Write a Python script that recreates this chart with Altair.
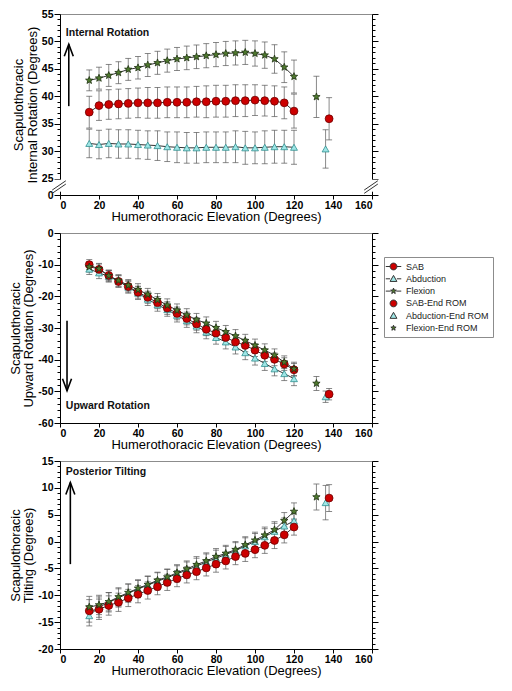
import math
import altair as alt
import pandas as pd

# ---------------- data ----------------
elevation = list(range(15, 121, 5))
series_names = ["SAB", "Abduction", "Flexion"]
end_rom_x = [138.0, 136.2, 131.5]

# Panel 1: internal rotation
ir_sab = [37.1, 38.3, 38.5, 38.6, 38.7, 38.8, 38.8, 38.8, 38.9, 38.9, 38.9, 39.0, 39.0, 39.1, 39.1, 39.2, 39.2, 39.3, 39.2, 39.1, 38.8, 37.3]
ir_sab_sd = [2.9, 2.7, 2.7, 2.7, 2.7, 2.7, 2.8, 2.8, 2.8, 2.8, 2.8, 2.8, 2.9, 2.9, 2.9, 2.9, 2.9, 2.8, 2.8, 2.8, 2.9, 3.1]
ir_abd = [31.4, 31.2, 31.4, 31.3, 31.3, 31.2, 31.1, 31.0, 30.8, 30.7, 30.6, 30.6, 30.7, 30.7, 30.7, 30.8, 30.6, 30.6, 30.7, 30.8, 30.8, 30.7]
ir_abd_sd = [2.6, 2.6, 2.6, 2.6, 2.6, 2.6, 2.6, 2.7, 2.7, 2.8, 2.8, 2.8, 2.8, 2.8, 2.8, 2.9, 3.0, 2.9, 3.0, 3.0, 3.0, 3.1]
ir_flex = [42.9, 43.3, 43.8, 44.3, 44.9, 45.2, 45.7, 46.1, 46.5, 46.8, 47.0, 47.2, 47.4, 47.6, 47.8, 47.9, 48.0, 47.8, 47.5, 46.8, 45.3, 43.6]
ir_flex_sd = [1.9, 2.0, 2.0, 2.0, 2.0, 2.05, 2.1, 2.1, 2.1, 2.1, 2.15, 2.15, 2.2, 2.2, 2.2, 2.2, 2.2, 2.3, 2.4, 2.6, 2.8, 3.0]
ir_end = [35.9, 30.4, 39.9]
ir_end_sd = [3.85, 3.5, 3.75]

# Panel 2: upward rotation
ur_sab = [-10.0, -11.5, -13.4, -15.3, -16.9, -18.7, -20.3, -22.0, -23.7, -25.4, -27.0, -28.7, -30.4, -31.6, -33.0, -34.4, -35.5, -37.0, -38.6, -39.9, -41.4, -43.2]
ur_sab_sd = [1.6, 1.7, 1.7, 1.8, 1.8, 1.9, 1.9, 1.9, 2.0, 2.0, 2.0, 2.0, 2.0, 2.0, 2.0, 2.0, 2.0, 2.0, 2.0, 2.0, 2.0, 2.0]
ur_abd = [-11.4, -12.6, -13.7, -15.2, -17.1, -19.0, -20.9, -22.7, -24.2, -26.0, -27.7, -29.4, -31.3, -33.0, -34.4, -36.0, -37.8, -39.5, -41.2, -42.9, -44.4, -46.0]
ur_abd_sd = [1.7, 1.8, 1.8, 1.9, 1.9, 2.0, 2.0, 2.0, 2.1, 2.1, 2.1, 2.1, 2.1, 2.1, 2.2, 2.2, 2.2, 2.2, 2.2, 2.2, 2.2, 2.2]
ur_flex = [-10.7, -11.3, -13.5, -15.0, -16.5, -17.9, -19.4, -21.1, -22.8, -24.4, -25.9, -27.4, -28.5, -29.9, -31.2, -32.5, -34.0, -35.5, -37.0, -38.6, -40.8, -42.9]
ur_flex_sd = [1.6, 1.7, 1.7, 1.8, 1.8, 1.9, 1.9, 2.0, 2.0, 2.0, 2.0, 2.0, 2.0, 2.0, 2.0, 2.0, 2.0, 2.0, 2.0, 2.0, 2.0, 2.1]
ur_end = [-50.9, -51.7, -47.5]
ur_end_sd = [1.8, 1.8, 2.2]

# Panel 3: posterior tilting
pt_sab = [-12.9, -12.6, -11.9, -11.3, -10.5, -9.8, -9.1, -8.4, -7.6, -6.9, -6.2, -5.6, -4.9, -4.2, -3.6, -2.8, -2.2, -1.5, -0.7, 0.2, 1.25, 2.7]
pt_sab_sd = [2.1, 1.9, 1.8, 1.7, 1.6, 1.6, 1.6, 1.5, 1.5, 1.5, 1.5, 1.5, 1.5, 1.5, 1.5, 1.5, 1.5, 1.5, 1.5, 1.5, 1.5, 1.5]
pt_abd = [-13.8, -12.2, -11.3, -10.5, -9.6, -8.85, -8.1, -7.4, -6.7, -6.0, -5.3, -4.6, -3.8, -3.1, -2.4, -1.7, -0.8, 0.0, 0.9, 1.9, 2.9, 3.85]
pt_abd_sd = [1.9, 1.9, 1.8, 1.7, 1.7, 1.6, 1.6, 1.6, 1.5, 1.5, 1.5, 1.5, 1.5, 1.5, 1.5, 1.5, 1.5, 1.5, 1.5, 1.5, 1.5, 1.5]
pt_flex = [-12.2, -11.8, -11.2, -10.3, -9.5, -8.7, -8.0, -7.2, -6.6, -5.8, -5.1, -4.3, -3.6, -2.8, -2.2, -1.5, -0.6, 0.25, 1.2, 2.2, 3.9, 5.6]
pt_flex_sd = [2.0, 1.8, 1.7, 1.7, 1.6, 1.6, 1.6, 1.5, 1.5, 1.5, 1.5, 1.5, 1.5, 1.5, 1.5, 1.5, 1.5, 1.5, 1.5, 1.5, 1.5, 1.6]
pt_end = [8.1, 7.25, 8.3]
pt_end_sd = [2.5, 3.2, 2.4]

legend_labels = ["SAB", "Abduction", "Flexion", "SAB-End ROM", "Abduction-End ROM", "Flexion-End ROM"]
x_title = "Humerothoracic Elevation (Degrees)"

# ---------------- styles ----------------
FONT = "Liberation Sans"
fills = {"SAB": "#cc0000", "Abduction": "#9fe6e6", "Flexion": "#4f7a2e"}
strokes = {"SAB": "#6e0000", "Abduction": "#2f8f8f", "Flexion": "#1e3210"}
PLOT_W = 312


def star_path(r_out, r_in):
    pts = []
    for i in range(10):
        r = r_out if i % 2 == 0 else r_in
        a = -math.pi / 2 + i * math.pi / 5
        pts.append(f"{r * math.cos(a):.3f},{r * math.sin(a):.3f}")
    return "M" + "L".join(pts) + "Z"


STAR = star_path(1.0, 0.42)


def circ(r):
    return f"M{r},0A{r},{r},0,1,1,{-r},0A{r},{r},0,1,1,{r},0Z"


def tri(r):
    return f"M0,{-r}L{r},{r * 0.78:.3f}L{-r},{r * 0.78:.3f}Z"


def seg(g):
    return f"M-1.55,0L{-g},0M{g},0L1.55,0"


legend_paths = [
    seg(0.68) + circ(0.68),
    seg(0.68) + tri(0.68),
    seg(0.55) + star_path(0.6, 0.26),
    circ(0.68),
    tri(0.68),
    star_path(0.55, 0.24),
]
legend_fills = [fills["SAB"], fills["Abduction"], fills["Flexion"]] * 2
legend_strokes = ["#333333"] * 6


def panel_frame(means, sds, ends, end_sds):
    rows = []
    for s, m, sd, em, esd, ex in zip(series_names, means, sds, ends, end_sds, end_rom_x):
        for x, y, e in zip(elevation, m, sd):
            rows.append(dict(series=s, x=x, y=y, sd=e, kind="main"))
        rows.append(dict(series=s, x=ex, y=em, sd=esd, kind="end"))
    return pd.DataFrame(rows)


xscale = alt.Scale(domain=[0, 160], nice=False, zero=False)


def make_panel(df, ydomain, yvals, major_test, label_expr, ytitle, height,
               annot, arrow, arrow_up, extra=None):
    yscale = alt.Scale(domain=ydomain, nice=False, zero=False)
    tick_size = {"condition": {"test": major_test, "value": 6}, "value": 3}
    x_axis = alt.Axis(values=list(range(0, 161, 20)), title=x_title, grid=False, orient="bottom",
                      tickSize=4, labelPadding=1, titlePadding=0)
    left_axis = alt.Axis(values=yvals, labelExpr=label_expr, tickSize=tick_size,
                         title=ytitle, orient="left", grid=False, labelOverlap=False,
                         labelPadding=1, titlePadding=2)
    right_axis = alt.Axis(values=yvals, labels=False, tickSize=tick_size, title=None,
                          orient="right", grid=False)
    base = alt.Chart(df).transform_calculate(lo="datum.y - datum.sd", hi="datum.y + datum.sd")
    err = base.mark_rule(color="#8a8a8a", strokeWidth=1).encode(
        x=alt.X("x:Q", scale=xscale, axis=x_axis),
        y=alt.Y("lo:Q", scale=yscale, axis=left_axis),
        y2="hi:Q",
    )
    cap_hi = base.mark_tick(color="#555555", thickness=1, size=6, orient="horizontal").encode(
        x=alt.X("x:Q", scale=xscale, axis=None),
        y=alt.Y("hi:Q", scale=yscale, axis=right_axis),
    )
    cap_lo = base.mark_tick(color="#555555", thickness=1, size=6, orient="horizontal").encode(
        x=alt.X("x:Q", scale=xscale, axis=None),
        y=alt.Y("lo:Q", scale=yscale, axis=None),
    )
    lines = base.transform_filter("datum.kind == 'main'").mark_line(
        color="#333333", strokeWidth=1).encode(
        x=alt.X("x:Q", scale=xscale, axis=None),
        y=alt.Y("y:Q", scale=yscale, axis=None),
        detail="series:N",
    )
    layers = [err, cap_hi, cap_lo, lines]
    shapes = {"SAB": "circle", "Abduction": "triangle-up", "Flexion": STAR}
    sizes = {"SAB": 62, "Abduction": 48, "Flexion": 60}
    for s in ["Abduction", "SAB", "Flexion"]:
        layers.append(
            base.transform_filter(f"datum.series == '{s}'").mark_point(
                shape=shapes[s], filled=True, fill=fills[s], stroke=strokes[s],
                strokeWidth=0.8, size=sizes[s], opacity=1).encode(
                x=alt.X("x:Q", scale=xscale, axis=None),
                y=alt.Y("y:Q", scale=yscale, axis=None),
            )
        )
    layers.append(
        alt.Chart(annot).mark_text(align="left", baseline="middle", fontWeight="bold",
                                   fontSize=10.5, color="#111111").encode(
            x=alt.X("x:Q", scale=xscale, axis=None),
            y=alt.Y("y:Q", scale=yscale, axis=None),
            text="t:N",
        )
    )
    layers.append(
        alt.Chart(arrow).mark_rule(color="black", strokeWidth=1.6).encode(
            x=alt.X("x:Q", scale=xscale, axis=None),
            y=alt.Y("y0:Q", scale=yscale, axis=None),
            y2="y1:Q",
        )
    )
    head = "M-0.9,2.4L0,0L0.9,2.4" if arrow_up else "M-0.9,-2.4L0,0L0.9,-2.4"
    layers.append(
        alt.Chart(arrow).mark_point(shape=head, filled=False, stroke="black",
                                    strokeWidth=1.6, size=100, opacity=1).encode(
            x=alt.X("x:Q", scale=xscale, axis=None),
            y=alt.Y("y1:Q", scale=yscale, axis=None),
        )
    )
    if extra:
        layers.extend(extra(yscale))
    return (alt.layer(*layers)
            .resolve_axis(x="independent", y="independent")
            .properties(width=PLOT_W, height=height))


# ---------- panel 1 ----------
df1 = panel_frame([ir_sab, ir_abd, ir_flex], [ir_sab_sd, ir_abd_sd, ir_flex_sd], ir_end, ir_end_sd)
annot1 = pd.DataFrame({"x": [3.0], "y": [51.6], "t": ["Internal Rotation"]})
arrow1 = pd.DataFrame({"x": [4.5], "y0": [38.2], "y1": [49.5]})

break_x = [0, 160]
break_mask = pd.DataFrame({"x0": [bx - 3.5 for bx in break_x], "x1": [bx + 3.5 for bx in break_x],
                           "y0": [22.6] * 2, "y1": [24.8] * 2})
break_lines = pd.DataFrame({
    "x0": [bx - 4 for bx in break_x for _ in range(2)],
    "x1": [bx + 3 for bx in break_x for _ in range(2)],
    "y0": [22.3, 22.9, 22.3, 22.9],
    "y1": [24.0, 24.6, 24.0, 24.6],
})


def break_layers(yscale):
    mask = alt.Chart(break_mask).mark_rect(color="white").encode(
        x=alt.X("x0:Q", scale=xscale, axis=None), x2="x1:Q",
        y=alt.Y("y0:Q", scale=yscale, axis=None), y2="y1:Q")
    slashes = alt.Chart(break_lines).mark_rule(color="#333333", strokeWidth=1).encode(
        x=alt.X("x0:Q", scale=xscale, axis=None), x2="x1:Q",
        y=alt.Y("y0:Q", scale=yscale, axis=None), y2="y1:Q")
    return [mask, slashes]


p1 = make_panel(
    df1, [22, 55], [22] + list(range(25, 56)),
    "datum.value % 5 === 0 || datum.value === 22",
    "datum.value === 22 ? '0' : (datum.value % 5 === 0 ? '' + datum.value : '')",
    ["Scapulothoracic", "Internal Rotation (Degrees)"], 181,
    annot1, arrow1, True, extra=break_layers,
)

# ---------- panel 2 ----------
df2 = panel_frame([ur_sab, ur_abd, ur_flex], [ur_sab_sd, ur_abd_sd, ur_flex_sd], ur_end, ur_end_sd)
annot2 = pd.DataFrame({"x": [3.0], "y": [-54.6], "t": ["Upward Rotation"]})
arrow2 = pd.DataFrame({"x": [3.6], "y0": [-27.7], "y1": [-49.8]})

leg_df = pd.DataFrame({"entry": legend_labels})


def legend_layer(yscale):
    leg = alt.Legend(title=None, orient="none", legendX=PLOT_W + 12, legendY=243,
                     direction="vertical")
    return [
        alt.Chart(leg_df).transform_filter("false").mark_point(
            filled=False, strokeWidth=1, opacity=1).encode(
            shape=alt.Shape("entry:N", scale=alt.Scale(domain=legend_labels, range=legend_paths),
                            legend=leg),
            fill=alt.Fill("entry:N", scale=alt.Scale(domain=legend_labels, range=legend_fills),
                          legend=leg),
            stroke=alt.Stroke("entry:N", scale=alt.Scale(domain=legend_labels, range=legend_strokes),
                              legend=leg),
        )
    ]


p2 = make_panel(
    df2, [-60, 0], list(range(-60, 1, 2)),
    "datum.value % 10 === 0",
    "datum.value % 10 === 0 ? '' + datum.value : ''",
    ["Scapulothoracic", "Upward Rotation (Degrees)"], 190,
    annot2, arrow2, False, extra=legend_layer,
)

# ---------- panel 3 ----------
df3 = panel_frame([pt_sab, pt_abd, pt_flex], [pt_sab_sd, pt_abd_sd, pt_flex_sd], pt_end, pt_end_sd)
annot3 = pd.DataFrame({"x": [3.0], "y": [13.0], "t": ["Posterior Tilting"]})
arrow3 = pd.DataFrame({"x": [5.3], "y0": [-4.2], "y1": [11.0]})

p3 = make_panel(
    df3, [-20, 15], list(range(-20, 16)),
    "datum.value % 5 === 0",
    "datum.value % 5 === 0 ? '' + datum.value : ''",
    ["Scapulothoracic", "Tilting (Degrees)"], 188,
    annot3, arrow3, True,
)

chart = (
    alt.vconcat(p1, p2, p3, spacing=3)
    .properties(padding={"left": 0, "top": 0, "right": 0, "bottom": 0})
    .configure_view(stroke="#8c8c8c", strokeWidth=1)
    .configure_axis(
        labelFont=FONT, labelFontSize=10.5, labelFontWeight="bold", labelColor="#000000",
        titleFont=FONT, titleFontSize=13, titleFontWeight="normal", titleColor="#000000",
        domainColor="#000000", tickColor="#000000", domainWidth=1, tickWidth=1,
        titleLineHeight=13.5,
    )
    .configure_text(font=FONT)
    .configure_legend(
        labelFont=FONT, labelFontSize=9, labelColor="#222222", symbolSize=100,
        symbolStrokeWidth=1, labelOffset=7,
        rowPadding=1.3, padding=4, strokeColor="#8c8c8c", fillColor="white",
        cornerRadius=0, labelLimit=200,
    )
)

chart.save("out.html", embed_options={"renderer": "svg", "actions": False})
